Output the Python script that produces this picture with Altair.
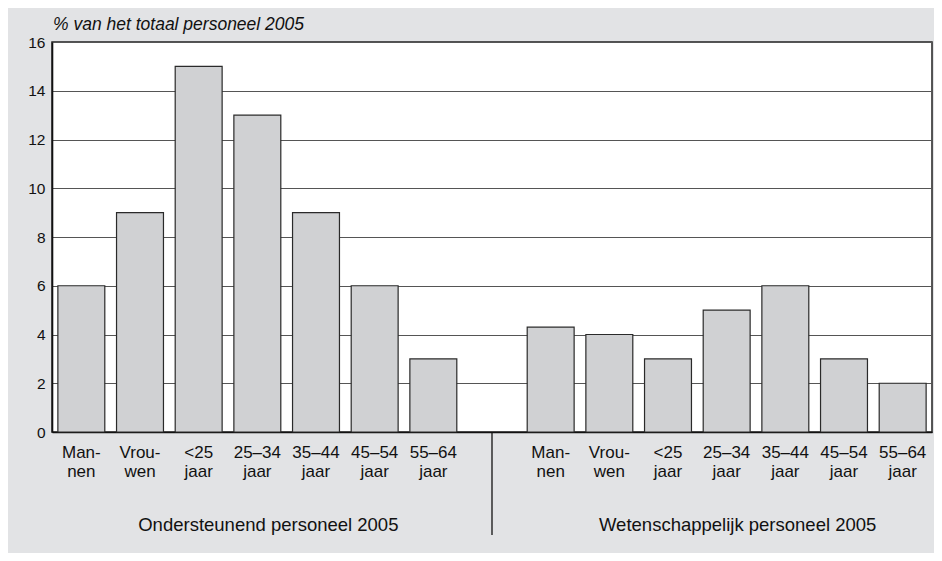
import json
import altair as alt
import pandas as pd

# --- data ---------------------------------------------------------------
group_left = "Ondersteunend personeel 2005"
group_right = "Wetenschappelijk personeel 2005"
categories = [["Man-", "nen"], ["Vrou-", "wen"], ["<25", "jaar"], ["25–34", "jaar"],
              ["35–44", "jaar"], ["45–54", "jaar"], ["55–64", "jaar"]]
left_values = [6, 9, 15, 13, 9, 6, 3]
right_values = [4.3, 4, 3, 5, 6, 3, 2]
y_ticks = [0, 2, 4, 6, 8, 10, 12, 14, 16]
y_title = "% van het totaal personeel 2005"

# slots: 0-6 left group, 7 empty gap, 8-14 right group
rows = []
for i, v in enumerate(left_values):
    rows.append({"slot": i, "value": v, "group": group_left})
for i, v in enumerate(right_values):
    rows.append({"slot": 8 + i, "value": v, "group": group_right})
df = pd.DataFrame(rows)
slot_labels = categories + [[""]] + categories
label_expr = json.dumps(slot_labels, ensure_ascii=False) + "[datum.value]"

FONT = "Liberation Sans"
BG = "#e2e3e5"

x_scale = alt.Scale(domain=list(range(15)), paddingInner=0.2, paddingOuter=0.1)
y_scale = alt.Scale(domain=[0, 16], nice=False)

bars = alt.Chart(df).mark_bar(color="#d0d1d3", stroke="#2a2a2a", strokeWidth=1.2).encode(
    x=alt.X("slot:O", scale=x_scale, title=None,
            axis=alt.Axis(labelExpr=label_expr, labelAngle=0, ticks=False, domain=True,
                          domainColor="#111", domainWidth=1.6, labelFont=FONT,
                          labelFontSize=17, labelColor="#111", labelPadding=12,
                          labelLineHeight=19, labelBaseline="top", grid=False)),
    y=alt.Y("value:Q", scale=y_scale, title=None,
            axis=alt.Axis(values=y_ticks, ticks=False, domain=True, domainColor="#111",
                          domainWidth=1.6, labelFont=FONT, labelFontSize=15.5,
                          labelColor="#111", labelPadding=7, grid=True,
                          gridColor="#555", gridWidth=1)),
)

titles_df = pd.DataFrame({"slot": [3, 11], "label": [group_left, group_right]})
group_titles = alt.Chart(titles_df).mark_text(
    font=FONT, fontSize=18.5, color="#111", baseline="middle", dx=11
).encode(
    x=alt.X("slot:O", scale=x_scale),
    y=alt.value(483),
    text="label:N",
)

divider_df = pd.DataFrame({"slot": [7]})
divider = alt.Chart(divider_df).mark_rule(color="#111", strokeWidth=1.3).encode(
    x=alt.X("slot:O", scale=x_scale),
    y=alt.value(390),
    y2=alt.value(493),
)

ytitle_df = pd.DataFrame({"label": [y_title]})
ytitle = alt.Chart(ytitle_df).mark_text(
    font=FONT, fontSize=17.5, fontStyle="italic", color="#111", align="left",
    baseline="alphabetic"
).encode(x=alt.value(1), y=alt.value(-12), text="label:N")

chart = alt.layer(bars, group_titles, divider, ytitle).properties(
    width=880, height=390,
    background=BG,
    autosize=alt.AutoSizeParams(type="none"),
    padding={"left": 44, "top": 34, "right": 2, "bottom": 121},
).configure_view(fill="white", stroke="#222", strokeWidth=1.5)

chart.save("out.html", embed_options={"renderer": "svg", "actions": False})
